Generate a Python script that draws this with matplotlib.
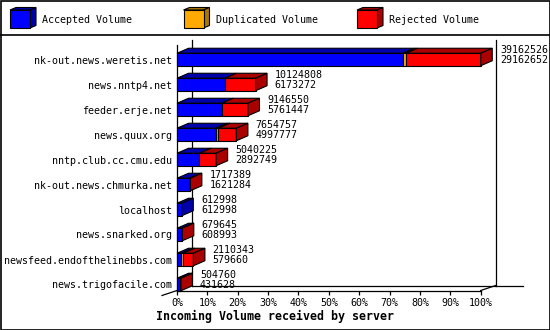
import matplotlib
matplotlib.use('Agg')
import matplotlib.pyplot as plt
from matplotlib.patches import Polygon, Rectangle

# data
hosts = ['nk-out.news.weretis.net', 'news.nntp4.net', 'feeder.erje.net',
         'news.quux.org', 'nntp.club.cc.cmu.edu', 'nk-out.news.chmurka.net',
         'localhost', 'news.snarked.org', 'newsfeed.endofthelinebbs.com',
         'news.trigofacile.com']
total = [39162526, 10124808, 9146550, 7654757, 5040225,
         1717389, 612998, 679645, 2110343, 504760]
accepted = [29162652, 6173272, 5761447, 4997777, 2892749,
            1621284, 612998, 608993, 579660, 431628]
duplicated = [380000, 0, 0, 320000, 0, 0, 0, 0, 200000, 0]  # estimated

series = ['Accepted Volume', 'Duplicated Volume', 'Rejected Volume']
front_colors = ['#0000ff', '#ffaa00', '#ff0000']
dark_colors = ['#0000aa', '#aa7700', '#aa0000']

FONT = 'DejaVu Sans Mono'
FS = 7.2

# 3d depth, in data units (percent / rows)
BDX = 3.8     # bar depth in x
FDX = 4.94    # frame depth in x
DY = 0.2      # depth in rows
H = 0.25      # half bar height
YTOP, YBOT = -0.58, 9.24

fig = plt.figure(figsize=(5.5, 3.3), dpi=100)

# background layer in pixel units for frame/legend/title
bg = fig.add_axes([0, 0, 1, 1])
bg.set_xlim(0, 550)
bg.set_ylim(330, 0)
bg.axis('off')
bg.add_patch(Rectangle((0.5, 0.5), 549, 329, fc='white', ec='black', lw=1.2))
bg.plot([0, 550], [34.5, 34.5], color='black', lw=1.2)

for i, name in enumerate(series):
    x0 = 10 + i * 173.5
    y0 = 10
    w, h, ox, oy = 20, 18, 6, 2.5
    bg.add_patch(Polygon([(x0, y0), (x0 + w, y0), (x0 + w + ox, y0 - oy), (x0 + ox, y0 - oy)],
                         fc=dark_colors[i], ec='black', lw=0.8))
    bg.add_patch(Polygon([(x0 + w, y0), (x0 + w + ox, y0 - oy), (x0 + w + ox, y0 + h - oy), (x0 + w, y0 + h)],
                         fc=dark_colors[i], ec='black', lw=0.8))
    bg.add_patch(Rectangle((x0, y0), w, h, fc=front_colors[i], ec='black', lw=0.8))
    bg.text(x0 + 32, 20, name, family=FONT, size=FS, va='center', ha='left')

bg.text(156, 316.5, 'Incoming Volume received by server', family=FONT,
        size=8.4, weight='bold', va='center', ha='left')

# main chart
ax = fig.add_axes([177 / 550, (330 - 290.5) / 330, 303.7 / 550, 245.5 / 330])
ax.patch.set_alpha(0)
ax.set_xlim(0, 100)
ax.set_ylim(YBOT, YTOP)
for s in ['top', 'right']:
    ax.spines[s].set_visible(False)
for s in ['left', 'bottom']:
    ax.spines[s].set_linewidth(0.9)

ax.set_xticks(range(0, 101, 10))
ax.set_xticklabels([f'{v}%' for v in range(0, 101, 10)], family=FONT, size=FS)
ax.set_yticks(range(len(hosts)))
ax.set_yticklabels(hosts, family=FONT, size=FS)
ax.tick_params(axis='x', length=3.2, width=0.9, pad=2.5)
ax.tick_params(axis='y', length=0, pad=3.8)

# back frame lines
ln = dict(color='black', lw=0.9, clip_on=False, zorder=1)
ax.plot([FDX, FDX], [YTOP - DY, YBOT - DY], **ln)
ax.plot([100 + FDX, 100 + FDX], [YTOP - DY, YBOT - DY], **ln)
ax.plot([FDX, 113.8], [YBOT - DY, YBOT - DY], **ln)
ax.plot([100, 100 + FDX], [YBOT, YBOT - DY], **ln)
ax.plot([-FDX, FDX], [YBOT + DY, YBOT - DY], **ln)


def box(x0, x1, y, fc, dc, side):
    top, bot = y - H, y + H
    kw = dict(ec='black', lw=0.8, clip_on=False, zorder=3)
    ax.add_patch(Polygon([(x0, top), (x1, top), (x1 + BDX, top - DY), (x0 + BDX, top - DY)],
                         fc=dc, **kw))
    ax.add_patch(Rectangle((x0, top), x1 - x0, bot - top, fc=fc, **kw))
    if side:
        ax.add_patch(Polygon([(x1, top), (x1 + BDX, top - DY), (x1 + BDX, bot - DY), (x1, bot)],
                             fc=dc, **kw))


vmax = max(total)
for i in range(len(hosts)):
    rej = total[i] - accepted[i] - duplicated[i]
    parts = [accepted[i], duplicated[i], rej]
    segs = [(k, p) for k, p in enumerate(parts) if p > 0]
    start = 0.0
    for j, (k, p) in enumerate(segs):
        end = start + p / vmax * 100
        box(start, end, i, front_colors[k], dark_colors[k], j == len(segs) - 1)
        start = end
    tx = total[i] / vmax * 100 + 6.3
    ax.text(tx, i - 0.38, str(total[i]), family=FONT, size=FS, va='center',
            ha='left', clip_on=False, zorder=4)
    ax.text(tx, i + 0.02, str(accepted[i]), family=FONT, size=FS, va='center',
            ha='left', clip_on=False, zorder=4)

fig.savefig('out.png', dpi=100)
